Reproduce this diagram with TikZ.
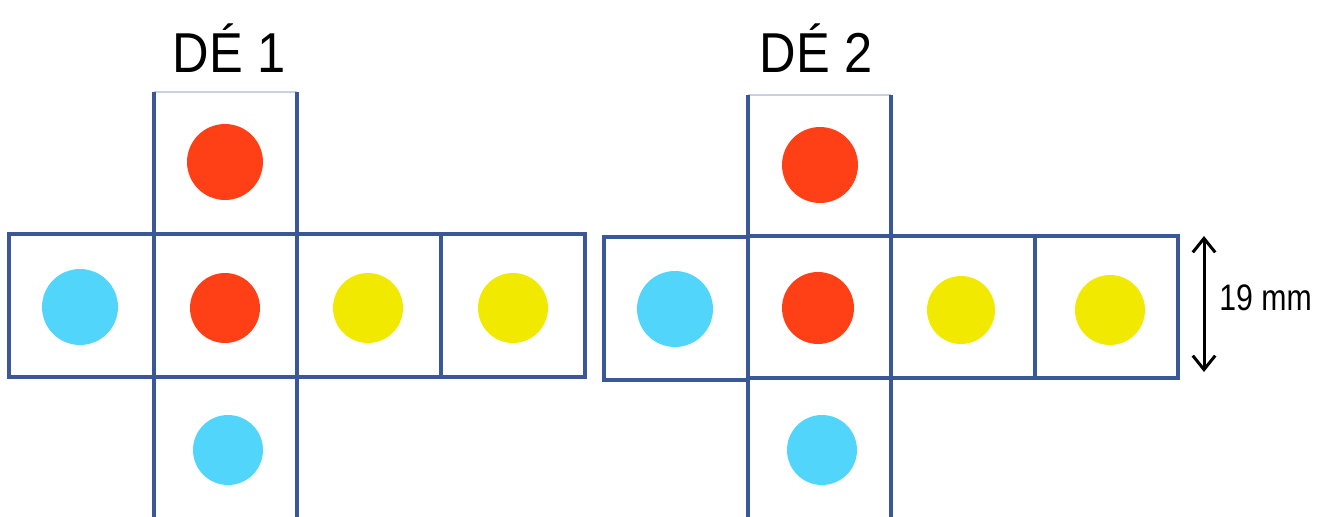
\documentclass[tikz,border=0pt]{standalone}
\usepackage{fontspec}
\setmainfont{Liberation Sans}
\usetikzlibrary{arrows.meta}
\definecolor{edge}{HTML}{3A5899}
\definecolor{faint}{HTML}{C8D0E4}
\definecolor{dred}{HTML}{FF4017}
\definecolor{dcyan}{HTML}{52D5FA}
\definecolor{dyellow}{HTML}{F2E900}
\tikzset{
  cellline/.style={draw=edge, line width=0.07cm},
  dot/.style={circle, inner sep=0pt, minimum size=#1*0.04cm},
  title/.style={font=\fontsize{32}{32}\selectfont\addfontfeatures{FakeStretch=0.9}, text=black},
}
\begin{document}
\begin{tikzpicture}[x=0.02cm,y=-0.02cm]
\useasboundingbox[fill=white] (0,0) rectangle (1320,517);
% ---------- DÉ 1 ----------
\node[title] (t1) at (229,48) {DÉ 1};
\draw[faint, line width=0.025cm] (154,92) -- (297,92);
\draw[cellline] (154,92) -- (154,517);
\draw[cellline] (297,92) -- (297,517);
\draw[cellline] (9,234) rectangle (585,377);
\draw[cellline] (441,234) -- (441,377);
\node[dot=38, fill=dred] (a1) at (225,162) {};
\node[dot=38, fill=dcyan] (a2) at (80,307) {};
\node[dot=35, fill=dred] (a3) at (225,308) {};
\node[dot=35, fill=dyellow] (a4) at (368,308) {};
\node[dot=35, fill=dyellow] (a5) at (513,308) {};
\node[dot=35, fill=dcyan] (a6) at (228,450) {};
% ---------- DÉ 2 ----------
\node[title] (t2) at (816,48) {DÉ 2};
\draw[faint, line width=0.025cm] (748,95) -- (891,95);
\draw[cellline] (748,95) -- (748,517);
\draw[cellline] (891,95) -- (891,517);
\draw[cellline] (604,237) rectangle (748,380);
\draw[cellline] (748,236) -- (1178,236) -- (1178,378) -- (748,378);
\draw[cellline] (1035,236) -- (1035,378);
\node[dot=38, fill=dred] (b1) at (820,165) {};
\node[dot=38, fill=dcyan] (b2) at (675,309) {};
\node[dot=36, fill=dred] (b3) at (818,308) {};
\node[dot=34, fill=dyellow] (b4) at (961,310) {};
\node[dot=35, fill=dyellow] (b5) at (1110,310) {};
\node[dot=35, fill=dcyan] (b6) at (822,450) {};
% ---------- dimension ----------
\coordinate (d1) at (1204,236);
\coordinate (d2) at (1204,372);
\draw[line width=0.06cm, line cap=round, {Straight Barb[length=0.28cm,width=0.45cm]}-{Straight Barb[length=0.28cm,width=0.45cm]}] (d1) -- (d2);
\node[font=\fontsize{21}{21}\selectfont\addfontfeatures{FakeStretch=0.82}, anchor=west, inner sep=0pt] (lbl) at (1219,298) {19 mm};
\end{tikzpicture}
\end{document}
